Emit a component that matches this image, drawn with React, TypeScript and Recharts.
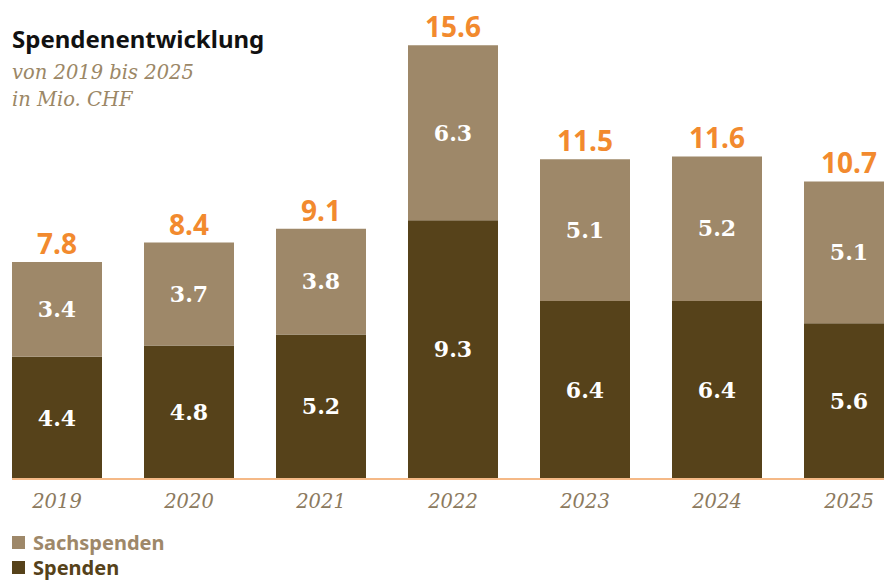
import React from 'react';
import { BarChart, Bar, XAxis, YAxis, LabelList } from 'recharts';

const years = ['2019', '2020', '2021', '2022', '2023', '2024', '2025'];
const spenden = [4.4, 4.8, 5.2, 9.3, 6.4, 6.4, 5.6];
const sachspenden = [3.4, 3.7, 3.8, 6.3, 5.1, 5.2, 5.1];
const totals = [7.8, 8.4, 9.1, 15.6, 11.5, 11.6, 10.7];

const DARK = '#56421a';
const TAN = '#9e8869';
const ORANGE = '#f28a2e';
const AXIS = '#f5b987';

const data = years.map((year, i) => ({
  year,
  spenden: spenden[i],
  sachspenden: sachspenden[i],
  total: totals[i],
}));

const fmt = (v: any) => Number(v).toFixed(1);

const legendItems = [
  { name: 'Sachspenden', color: TAN },
  { name: 'Spenden', color: DARK },
];

export default function App() {
  return (
    <div style={{ position: 'fixed', left: 0, top: 0, width: 884, height: 582, overflow: 'hidden', background: '#fff' }}>
      <div style={{ position: 'absolute', left: 12, top: 24, fontFamily: '"Noto Sans", sans-serif', fontWeight: 700, fontSize: 24, color: '#111', lineHeight: '30px' }}>
        Spendenentwicklung
      </div>
      <div style={{ position: 'absolute', left: 12, top: 59, fontFamily: '"DejaVu Serif", serif', fontStyle: 'italic', fontSize: 19.5, color: '#9b8766', lineHeight: '27px' }}>
        von 2019 bis 2025
        <br />
        in Mio. CHF
      </div>
      <BarChart
        width={930}
        height={582}
        data={data}
        margin={{ top: 34, right: 36, bottom: 73, left: 12 }}
        barSize={90}
        style={{ position: 'absolute', left: 0, top: 0 }}
      >
        <XAxis
          dataKey="year"
          height={30}
          padding={{ left: -21, right: -21 }}
          axisLine={{ stroke: AXIS, strokeWidth: 2 }}
          tickLine={false}
          tick={{ fill: '#8c7a5e', fontFamily: '"DejaVu Serif", serif', fontStyle: 'italic', fontSize: 19.5 }}
          tickMargin={9}
        />
        <YAxis hide domain={[0, 16]} />
        <Bar dataKey="spenden" stackId="a" fill={DARK} isAnimationActive={false}>
          <LabelList
            dataKey="spenden"
            position="center"
            formatter={fmt}
            fill="#fff"
            style={{ fontFamily: '"DejaVu Serif", serif', fontWeight: 700, fontSize: 22 }}
          />
        </Bar>
        <Bar dataKey="sachspenden" stackId="a" fill={TAN} isAnimationActive={false}>
          <LabelList
            dataKey="sachspenden"
            position="center"
            formatter={fmt}
            fill="#fff"
            style={{ fontFamily: '"DejaVu Serif", serif', fontWeight: 700, fontSize: 22 }}
          />
          <LabelList
            dataKey="total"
            position="top"
            offset={8}
            formatter={fmt}
            fill={ORANGE}
            style={{ fontFamily: '"Noto Sans", sans-serif', fontWeight: 700, fontSize: 28 }}
          />
        </Bar>
      </BarChart>
      <div style={{ position: 'absolute', left: 12, top: 530, fontFamily: '"Noto Sans", sans-serif', fontWeight: 700, fontSize: 20 }}>
        {legendItems.map((item) => (
          <div key={item.name} style={{ display: 'flex', alignItems: 'center', height: 25, color: item.color }}>
            <span style={{ display: 'inline-block', width: 13, height: 13, background: item.color, marginRight: 8 }} />
            <span>{item.name}</span>
          </div>
        ))}
      </div>
    </div>
  );
}
